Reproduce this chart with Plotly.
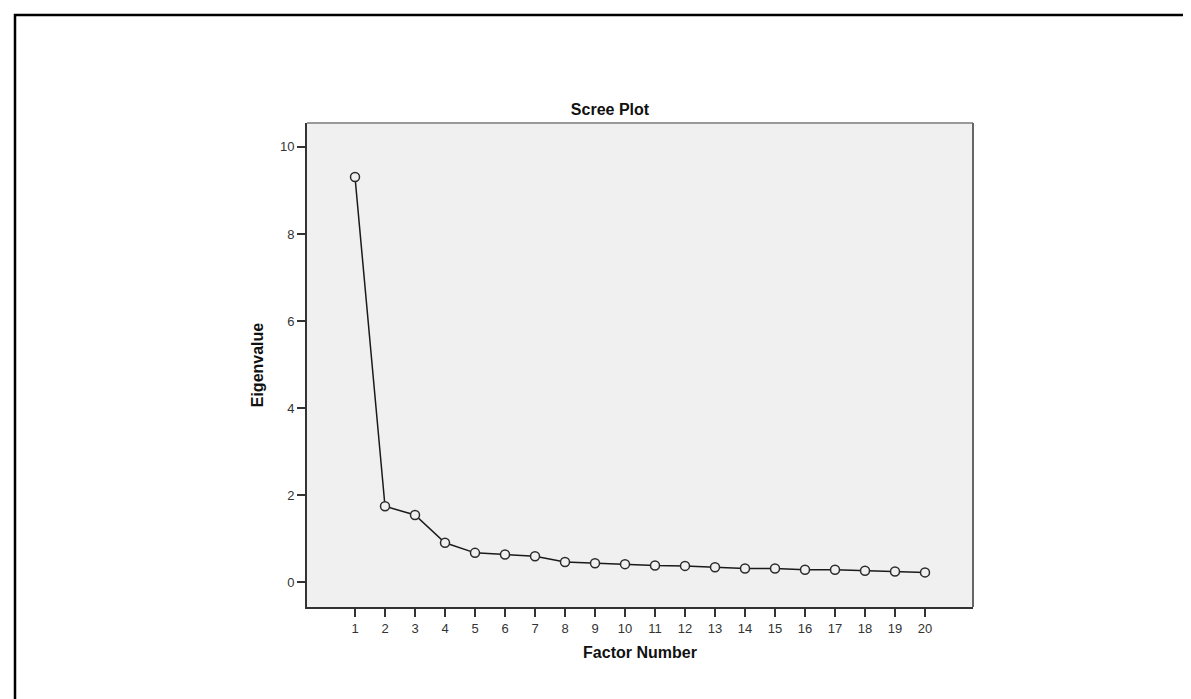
import plotly.graph_objects as go

factors = list(range(1, 21))
eigenvalues = [9.31, 1.74, 1.54, 0.90, 0.67, 0.63, 0.59, 0.46, 0.43, 0.41,
               0.38, 0.37, 0.34, 0.31, 0.31, 0.28, 0.28, 0.26, 0.24, 0.22]
y_ticks = [0, 2, 4, 6, 8, 10]

W, H = 1191, 699
L, R, T, B = 299, 965, 115, 599

def px_x(p):
    return (p - L) / (R - L)

def px_y(p):
    return (B - p) / (B - T)

fig = go.Figure()
fig.add_trace(go.Scatter(
    x=factors, y=eigenvalues, mode="lines+markers",
    line=dict(color="#1a1a1a", width=1.5),
    marker=dict(symbol="circle", size=9, color="#f0f0f0",
                line=dict(color="#2a2a2a", width=1.5)),
    showlegend=False, hoverinfo="x+y",
))

font = "Liberation Sans, Arial, sans-serif"
fig.update_layout(
    width=W, height=H,
    margin=dict(l=L, r=W - R, t=T, b=H - B, autoexpand=False),
    paper_bgcolor="white", plot_bgcolor="#f0f0f0",
    font=dict(family=font, color="#222222"),
    title=dict(text="<b>Scree Plot</b>", x=px_x(602), xref="paper", xanchor="center",
               y=1 - 101 / H, yref="container", yanchor="middle",
               font=dict(size=16, color="#111111", family=font)),
    xaxis=dict(range=[-0.6, 21.6], tickmode="array", tickvals=factors,
               ticktext=[str(f) for f in factors],
               showgrid=False, zeroline=False, showline=True, linecolor="#333333", linewidth=2,
               ticks="outside", ticklen=8, tickwidth=2, tickcolor="#333333",
               tickfont=dict(size=13, color="#333333", family=font),
               title=dict(text="<b>Factor Number</b>", standoff=12,
                          font=dict(size=16, color="#111111", family=font))),
    yaxis=dict(range=[-0.575, 10.55], tickmode="array", tickvals=y_ticks,
               showgrid=False, zeroline=False, showline=True, linecolor="#333333", linewidth=2,
               ticks="outside", ticklen=8, tickwidth=2, tickcolor="#333333",
               tickfont=dict(size=13, color="#333333", family=font),
               title=dict(text="<b>Eigenvalue</b>", standoff=12,
                          font=dict(size=16, color="#111111", family=font))),
    shapes=[
        dict(type="line", xref="paper", yref="paper", x0=0, x1=1, y0=1, y1=1,
             line=dict(color="#999999", width=2)),
        dict(type="line", xref="paper", yref="paper", x0=1, x1=1, y0=0, y1=1,
             line=dict(color="#666666", width=2)),
        dict(type="rect", xref="paper", yref="paper",
             x0=px_x(7), x1=px_x(W + 20), y0=px_y(7), y1=px_y(H + 20),
             line=dict(color="black", width=2.5), fillcolor="rgba(0,0,0,0)"),
    ],
)

fig.write_html("out.html")
